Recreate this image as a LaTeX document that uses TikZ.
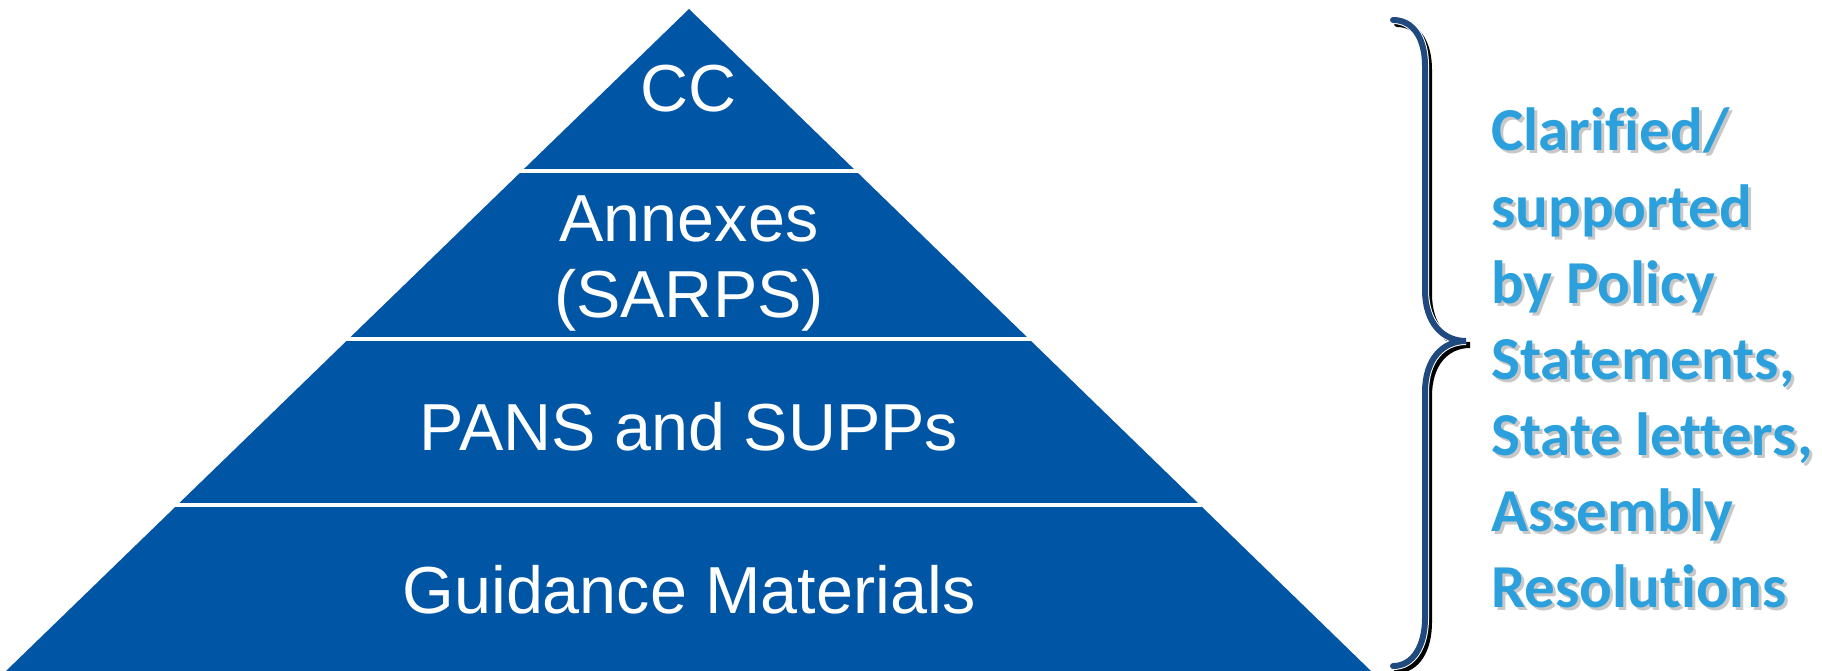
\documentclass[tikz,border=0pt]{standalone}
\usepackage{fontspec}
\setmainfont{Liberation Sans}
\newfontfamily\carlito[Ligatures=NoCommon]{Carlito}
\definecolor{pyrblue}{HTML}{0055A5}
\definecolor{txtblue}{HTML}{2CA0DC}
\definecolor{bracenavy}{HTML}{1F4A80}
\definecolor{shadowgray}{HTML}{9A9A9A}
\tikzset{
  pyrtext/.style={text=white, inner sep=0pt, anchor=base, font=\fontsize{66.5}{78}\selectfont},
  sidetext/.style={text=txtblue, inner sep=0pt, anchor=base west, font=\carlito\bfseries\fontsize{61}{76}\selectfont},
  sideshadow/.style={text=shadowgray, text opacity=0.55, inner sep=0pt, anchor=base west, font=\carlito\bfseries\fontsize{61}{76}\selectfont},
  sepline/.style={white, line width=4.5pt},
  bracepath/.style={line width=6pt, line cap=round},
}
\begin{document}
\begin{tikzpicture}[x=1pt,y=-1pt]
\useasboundingbox (0,0) rectangle (1822,671);
% pyramid
\coordinate (apex) at (689,9);
\coordinate (bl) at (6,671);
\coordinate (br) at (1371,671);
\fill[pyrblue] (apex) -- (br) -- (bl) -- cycle;
% separators
\draw[sepline] (400,171) -- (980,171);
\draw[sepline] (200,339) -- (1150,339);
\draw[sepline] (20,505) -- (1360,505);
% pyramid texts
\node[pyrtext] (cc) at (689,112) {CC};
\node[pyrtext] (ann) at (689,241) {Annexes};
\node[pyrtext] (sarps) at (689,317) {(SARPS)};
\node[pyrtext] (pans) at (689,450) {PANS and SUPPs};
\node[pyrtext] (guid) at (689,613) {Guidance Materials};
% brace: shadow, white edge, blue
\def\bracecurve{(1393,20) .. controls (1413,20) and (1425,38) .. (1425,66)
  -- (1425,290) .. controls (1425,322) and (1442,341) .. (1466,341)
  .. controls (1442,341) and (1425,360) .. (1425,392)
  -- (1425,618) .. controls (1425,646) and (1413,666) .. (1393,666)}
\begin{scope}[shift={(4,4)}]
\draw[bracepath, black] \bracecurve;
\end{scope}
\draw[bracepath, white, line width=8pt] \bracecurve;
\draw[bracepath, bracenavy] \bracecurve;
% side text
\foreach \t [count=\i] in {{Clarified/}, {supported}, {by Policy}, {Statements,}, {State letters,}, {Assembly}, {Resolutions}}{
  \node[sideshadow] (rs\i) at ({1491+3},{151+76*(\i-1)+3}) {\t};
  \node[sidetext] (rt\i) at (1491,{151+76*(\i-1)}) {\t};
}
\end{tikzpicture}
\end{document}
